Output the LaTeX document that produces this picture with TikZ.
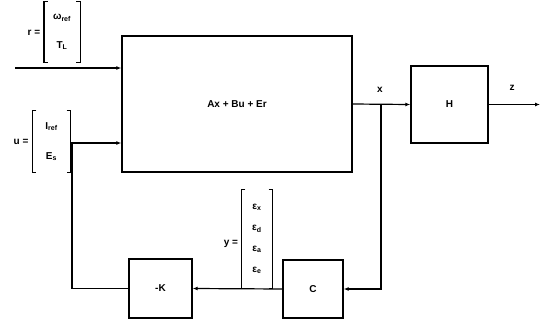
\documentclass[tikz,border=0pt]{standalone}
\usepackage{fontspec}
\setmainfont{Liberation Sans}
\usetikzlibrary{arrows.meta}

\begin{document}
\begin{tikzpicture}[x=1pt, y=-1pt, line width=1.2pt,
    every node/.style={font=\bfseries\fontsize{10}{12}\selectfont},
    block/.style={draw, line width=1.4pt, inner sep=0pt},
    vecbox/.style={inner sep=0pt, align=center},
    >={Latex[length=5pt,width=4pt]}]

    \useasboundingbox (0,0) rectangle (550,325);

    % Bloecke
    \node[block, minimum width=230pt, minimum height=136pt] (sys) at (237,104) {Ax + Bu + Er};
    \node[block, minimum width=77pt, minimum height=77pt] (H) at (449.5,104.5) {H};
    \node[block, minimum width=60pt, minimum height=58pt] (C) at (313,289) {C};
    \node[block, minimum width=63pt, minimum height=59pt] (K) at (160.5,288.5) {-K};

    % Vektoren
    \node[vecbox, minimum width=35pt, minimum height=60pt] (rvec) at (62,32) {ω\textsubscript{ref}\\[17pt]T\textsubscript{L}};
    \node[vecbox, minimum width=37pt, minimum height=61pt] (uvec) at (51.5,141.5) {I\textsubscript{ref}\\[18pt]E\textsubscript{s}};
    \node[vecbox, minimum width=30pt, minimum height=98pt] (yvec) at (257,239) {ε\textsubscript{x}\\[9pt]ε\textsubscript{d}\\[9pt]ε\textsubscript{a}\\[9pt]ε\textsubscript{e}};
    \foreach \v in {rvec,uvec,yvec} {
        \draw ([xshift=4pt]\v.north west) -- (\v.north west) -- (\v.south west) -- ([xshift=4pt]\v.south west);
        \draw ([xshift=-4pt]\v.north east) -- (\v.north east) -- (\v.south east) -- ([xshift=-4pt]\v.south east);
    }
    \node (rlab) at (34,33) {r =};
    \node (ulab) at (21,142) {u =};
    \node (ylab) at (231,244) {y =};
    \node (xlab) at (380,90) {x};
    \node (zlab) at (512,88) {z};

    % Eingaenge
    \coordinate (rin) at (15,68);
    \coordinate (uin) at (70,143);
    \coordinate (ujoin) at (72,143);
    \draw[->] (rin) -- (rin -| sys.west);
    \draw[->] (uin) -- (uin -| sys.west);

    % Ausgang
    \coordinate (zout) at (540,104.5);
    \draw[->] (sys.east) -- (H.west);
    \draw[->] (H.east) -- (zout);

    % Rueckfuehrung
    \coordinate (xbr) at (381,104);
    \draw[->] (xbr) |- (C.east);
    \draw[->] (C.west) -- (K.east);
    \draw (K.west) -| (ujoin);

\end{tikzpicture}
\end{document}
